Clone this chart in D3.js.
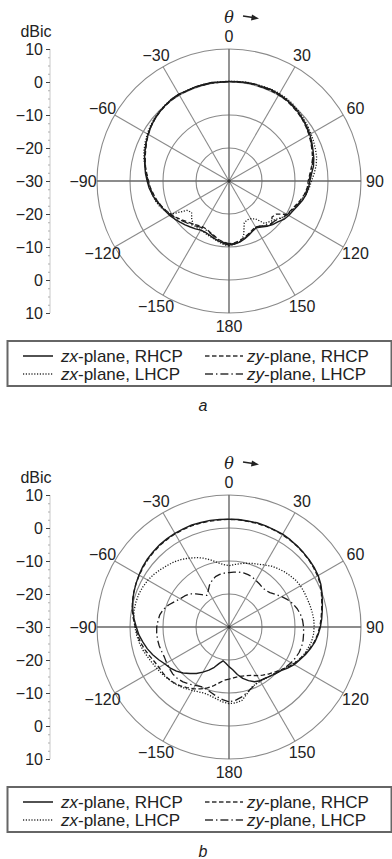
<!DOCTYPE html>
<html><head><meta charset="utf-8">
<script src="https://cdn.jsdelivr.net/npm/d3@7"></script>
<style>body{margin:0;background:#fff}svg{display:block}</style>
</head><body>
<svg id="c" width="392" height="859"></svg>
<script>
// ---------- data ----------
const angles = [-180,-175,-170,-165,-160,-155,-150,-145,-140,-135,-130,-125,-120,-115,-110,-105,-100,-95,-90,-85,-80,-75,-70,-65,-60,-55,-50,-45,-40,-35,-30,-25,-20,-15,-10,-5,0,5,10,15,20,25,30,35,40,45,50,55,60,65,70,75,80,85,90,95,100,105,110,115,120,125,130,135,140,145,150,155,160,165,170,175];

// panel a
const aZxRHCP = [-10.6,-11.0,-11.6,-12.1,-12.6,-12.9,-12.8,-12.3,-11.8,-11.2,-10.6,-9.9,-9.2,-8.6,-8.0,-7.1,-6.4,-5.7,-5.2,-4.6,-4.1,-3.5,-2.9,-2.3,-1.7,-1.1,-0.7,-0.3,0.0,0.3,0.4,0.2,0.3,0.2,0.3,0.1,0.2,0.2,0.3,0.4,0.3,0.5,0.4,0.2,0.0,-0.4,-0.8,-1.2,-1.7,-2.3,-2.9,-3.4,-4.0,-4.9,-5.5,-5.8,-6.3,-7.0,-7.9,-8.6,-9.1,-9.7,-10.7,-11.3,-12.1,-13.0,-13.6,-13.2,-12.5,-11.8,-11.2,-10.8];
const aZyRHCP = [-11.0,-11.4,-12.0,-12.8,-13.4,-13.9,-14.0,-13.6,-13.0,-12.4,-11.6,-10.6,-9.7,-8.9,-8.1,-7.4,-6.8,-6.1,-5.6,-5.0,-4.3,-3.7,-3.1,-2.4,-1.8,-1.2,-0.7,-0.4,-0.1,0.1,0.2,0.1,0.2,0.1,0.2,0.0,0.1,0.1,0.2,0.2,0.1,0.2,0.1,0.0,-0.3,-0.6,-1.0,-1.5,-2.0,-2.6,-3.2,-3.8,-4.6,-5.4,-6.0,-6.2,-6.8,-7.6,-8.5,-9.2,-9.8,-12.5,-13.0,-11.6,-12.2,-13.4,-13.9,-13.5,-12.9,-12.2,-11.6,-11.2];
const aZxLHCP = [-10.3,-10.7,-11.3,-11.9,-12.3,-12.6,-12.9,-12.8,-13.0,-14.0,-15.2,-14.5,-10.0,-8.6,-7.6,-6.9,-6.4,-5.9,-5.5,-4.9,-4.1,-3.3,-2.6,-2.0,-1.4,-0.9,-0.5,-0.2,0.1,0.3,0.3,0.2,0.3,0.3,0.2,0.2,0.2,0.3,0.4,0.4,0.5,0.6,0.6,0.5,0.3,-0.1,-0.5,-0.9,-1.3,-1.7,-2.1,-2.5,-3.2,-4.1,-5.0,-5.6,-6.3,-7.1,-8.1,-9.0,-9.6,-10.6,-11.8,-12.6,-13.2,-16.0,-16.8,-17.0,-16.5,-12.8,-11.4,-10.8];
const aZyLHCP = [-10.8,-11.3,-11.9,-12.6,-13.2,-13.6,-13.7,-13.2,-12.6,-12.0,-11.3,-10.4,-9.5,-8.8,-8.0,-7.3,-6.6,-6.0,-5.4,-4.8,-4.2,-3.6,-3.0,-2.3,-1.7,-1.1,-0.6,-0.3,0.0,0.2,0.3,0.2,0.2,0.2,0.1,0.1,0.1,0.2,0.2,0.3,0.2,0.3,0.2,0.1,-0.2,-0.5,-0.9,-1.4,-1.9,-2.5,-3.1,-3.7,-4.4,-5.2,-5.8,-6.1,-6.6,-7.3,-8.2,-9.0,-9.6,-10.5,-11.5,-11.8,-12.6,-13.3,-13.8,-13.4,-12.7,-12.0,-11.4,-11.0];

// panel b
const bZxRHCP = [-18.0,-19.0,-19.6,-18.6,-17.0,-15.6,-14.2,-12.8,-11.6,-10.3,-9.2,-8.3,-7.6,-6.5,-5.4,-4.4,-3.5,-2.6,-1.9,-1.1,-0.4,0.2,0.7,1.1,1.5,1.9,2.2,2.4,2.6,2.7,2.8,2.8,2.9,2.8,2.8,2.7,2.7,2.7,2.6,2.7,2.6,2.5,2.5,2.3,2.1,1.9,1.7,1.5,1.2,0.7,0.0,-0.7,-1.3,-1.8,-2.3,-2.9,-3.6,-4.5,-5.4,-6.4,-7.2,-8.3,-9.4,-10.0,-10.6,-11.0,-11.2,-11.7,-12.7,-13.9,-15.4,-17.0];
const bZyRHCP = [-14.2,-13.8,-12.8,-11.5,-10.3,-9.3,-8.4,-7.6,-6.8,-6.2,-5.8,-5.6,-5.5,-5.1,-4.4,-3.6,-2.8,-2.2,-1.6,-0.9,-0.2,0.3,0.7,1.1,1.4,1.7,2.0,2.2,2.4,2.5,2.6,2.6,2.7,2.6,2.6,2.6,2.6,2.6,2.5,2.5,2.5,2.4,2.3,2.2,2.0,1.8,1.6,1.3,1.0,0.5,-0.2,-0.9,-1.5,-2.0,-2.5,-3.1,-3.8,-4.7,-5.6,-6.6,-7.5,-8.6,-9.7,-10.6,-11.4,-12.2,-13.0,-13.8,-14.3,-14.6,-14.7,-14.5];
const bZxLHCP = [-6.8,-7.2,-7.9,-8.4,-8.6,-8.3,-7.8,-7.2,-6.6,-6.1,-5.7,-5.2,-4.8,-4.3,-3.7,-3.0,-2.4,-1.9,-1.5,-1.0,-0.8,-0.8,-0.9,-1.2,-1.6,-2.2,-2.9,-3.6,-4.2,-5.0,-5.9,-6.8,-7.8,-9.0,-10.2,-11.0,-11.4,-11.0,-10.5,-10.0,-9.5,-9.0,-8.3,-7.5,-6.9,-6.3,-5.8,-5.3,-5.0,-4.9,-4.8,-4.6,-4.4,-4.2,-4.2,-4.3,-4.6,-5.2,-5.8,-6.6,-7.6,-8.6,-9.5,-10.2,-10.6,-10.9,-11.0,-10.9,-10.4,-9.0,-7.4,-6.9];
const bZyLHCP = [-7.3,-7.9,-8.6,-9.4,-10.0,-10.1,-9.6,-8.9,-8.3,-7.9,-7.8,-8.0,-8.2,-8.4,-8.3,-8.1,-8.0,-8.0,-8.1,-8.4,-8.7,-9.4,-10.5,-11.8,-12.9,-13.6,-14.4,-15.8,-17.2,-18.3,-17.4,-16.0,-15.0,-14.2,-13.8,-13.6,-13.5,-13.3,-13.1,-13.0,-13.1,-13.3,-13.7,-14.0,-14.3,-14.3,-13.8,-12.8,-11.6,-10.4,-9.4,-8.6,-8.0,-7.6,-7.4,-7.3,-7.2,-7.2,-7.4,-7.8,-8.3,-8.9,-9.5,-10.1,-10.6,-11.0,-11.2,-10.9,-10.2,-9.3,-8.4,-7.7];

const ringValues = [-20, -10, 0, 10];
const spokeAngles = [0, 30, 60, 90, 120, 150, 180, -150, -120, -90, -60, -30];
const radialTicks = [-30, -20, -10, 0, 10];
const seriesNames = ["zx-plane, RHCP", "zy-plane, RHCP", "zx-plane, LHCP", "zy-plane, LHCP"];
const panelLabels = ["a", "b"];

// ---------- drawing ----------
const svg = d3.select("#c");
const FONT = "'Liberation Sans', Arial, Helvetica, sans-serif";
const R = 132, CX = 229;
const rScale = d3.scaleLinear().domain([-30, 10]).range([0, R]);
const aScale = d3.scaleLinear().domain([-180, 180]).range([-Math.PI, Math.PI]);
const styles = [
  {dash: null, w: 1.4},
  {dash: "4.5,2.5", w: 1.3},
  {dash: "1.2,1.6", w: 1.3},
  {dash: "8,3,1.4,3", w: 1.3}
];

function panel(cy, series, label) {
  const g = svg.append("g");
  const c = g.append("g").attr("transform", `translate(${CX},${cy})`);
  c.selectAll("circle.ring").data(ringValues).join("circle")
    .attr("r", d => rScale(d)).attr("fill", "none")
    .attr("stroke", "#8a8a8a").attr("stroke-width", 1.1);
  c.selectAll("line.spoke").data(spokeAngles).join("line")
    .attr("x1", 0).attr("y1", 0)
    .attr("x2", d => R * Math.sin(aScale(d)))
    .attr("y2", d => -R * Math.cos(aScale(d)))
    .attr("stroke", d => (d % 90 === 0) ? "#666" : "#8a8a8a")
    .attr("stroke-width", d => (d % 90 === 0) ? 1.4 : 1.1);
  c.selectAll("text.al").data(spokeAngles).join("text")
    .attr("x", d => 146 * Math.sin(aScale(d)))
    .attr("y", d => -145 * Math.cos(aScale(d)))
    .attr("text-anchor", "middle").attr("dominant-baseline", "central")
    .attr("font-family", FONT).attr("font-size", 16).attr("fill", "#222")
    .text(d => d3.format("d")(d));
  const line = d3.lineRadial()
    .angle((d, i) => aScale(angles[i]))
    .radius(d => rScale(d))
    .curve(d3.curveLinearClosed);
  series.forEach((s, k) => {
    c.append("path").attr("d", line(s)).attr("fill", "none")
      .attr("stroke", "#1c1c1c").attr("stroke-width", styles[k].w)
      .attr("stroke-dasharray", styles[k].dash)
      .attr("stroke-linejoin", "round");
  });
  c.append("circle").attr("r", 1.8).attr("fill", "#333");

  g.append("text").attr("x", CX).attr("y", cy - 158)
    .attr("text-anchor", "middle")
    .attr("font-family", "'DejaVu Serif', 'Liberation Serif', serif")
    .attr("font-style", "italic").attr("font-size", 16).attr("fill", "#222").text("θ");
  g.append("line").attr("x1", CX + 14).attr("y1", cy - 165).attr("x2", CX + 24).attr("y2", cy - 163.5)
    .attr("stroke", "#222").attr("stroke-width", 1.4);
  g.append("path").attr("d", `M${CX+23},${cy-166.5} L${CX+30},${cy-162.5} L${CX+22},${cy-160.5} Z`).attr("fill", "#222");

  const up = d3.scaleLinear().domain([-30, 10]).range([cy, cy - R]);
  const down = d3.scaleLinear().domain([-30, 10]).range([cy, cy + R]);
  const ax = g.append("g").attr("transform", "translate(50,0)");
  ax.append("line").attr("x1", 0).attr("x2", 0).attr("y1", cy - R).attr("y2", cy + R)
    .attr("stroke", "#c8c8c8").attr("stroke-width", 1);
  const minorVals = d3.range(-30, 10.01, 2.5);
  [up, down].forEach((sc) => {
    const m = ax.append("g").call(d3.axisLeft(sc).tickValues(minorVals).tickSize(2).tickFormat(""));
    m.select(".domain").remove();
    m.selectAll(".tick line").attr("stroke", "#b0b0b0");
  });
  const fmt = d3.format("d");
  const a1 = ax.append("g").call(d3.axisLeft(up).tickValues(radialTicks).tickSize(4).tickPadding(3).tickFormat(fmt));
  const a2 = ax.append("g").call(d3.axisLeft(down).tickValues(radialTicks.filter(v => v !== -30)).tickSize(4).tickPadding(3).tickFormat(fmt));
  [a1, a2].forEach(a => {
    a.select(".domain").remove();
    a.selectAll(".tick line").attr("stroke", "#444");
    a.selectAll(".tick text").attr("font-family", FONT).attr("font-size", 16).attr("fill", "#222");
  });
  g.append("text").attr("x", 36).attr("y", cy - 144).attr("text-anchor", "middle")
    .attr("font-family", FONT).attr("font-size", 16).attr("fill", "#222").text("dBic");

  const ly = cy + 160, lh = 45;
  g.append("rect").attr("x", 7.5).attr("y", ly).attr("width", 384).attr("height", lh)
    .attr("fill", "#fff").attr("stroke", "#666").attr("stroke-width", 2);
  const pos = [[23, 61, cy + 175], [205, 247, cy + 175], [23, 61, cy + 193], [205, 247, cy + 193]];
  seriesNames.forEach((name, k) => {
    const [sx, tx, y] = pos[k];
    g.append("line").attr("x1", sx).attr("x2", sx + (k % 2 ? 38 : 30)).attr("y1", y).attr("y2", y)
      .attr("stroke", "#333").attr("stroke-width", styles[k].w + 0.3)
      .attr("stroke-dasharray", styles[k].dash);
    const t = g.append("text").attr("x", tx).attr("y", y).attr("dominant-baseline", "central")
      .attr("font-family", FONT).attr("font-size", 17).attr("fill", "#222");
    t.append("tspan").attr("font-style", "italic").text(name.slice(0, 2));
    t.append("tspan").text(name.slice(2));
  });
  g.append("text").attr("x", 203).attr("y", cy + 230).attr("text-anchor", "middle")
    .attr("font-family", FONT).attr("font-style", "italic").attr("font-size", 16).attr("fill", "#222").text(label);
}

panel(181, [aZxRHCP, aZyRHCP, aZxLHCP, aZyLHCP], panelLabels[0]);
panel(627, [bZxRHCP, bZyRHCP, bZxLHCP, bZyLHCP], panelLabels[1]);
</script>
</body></html>
